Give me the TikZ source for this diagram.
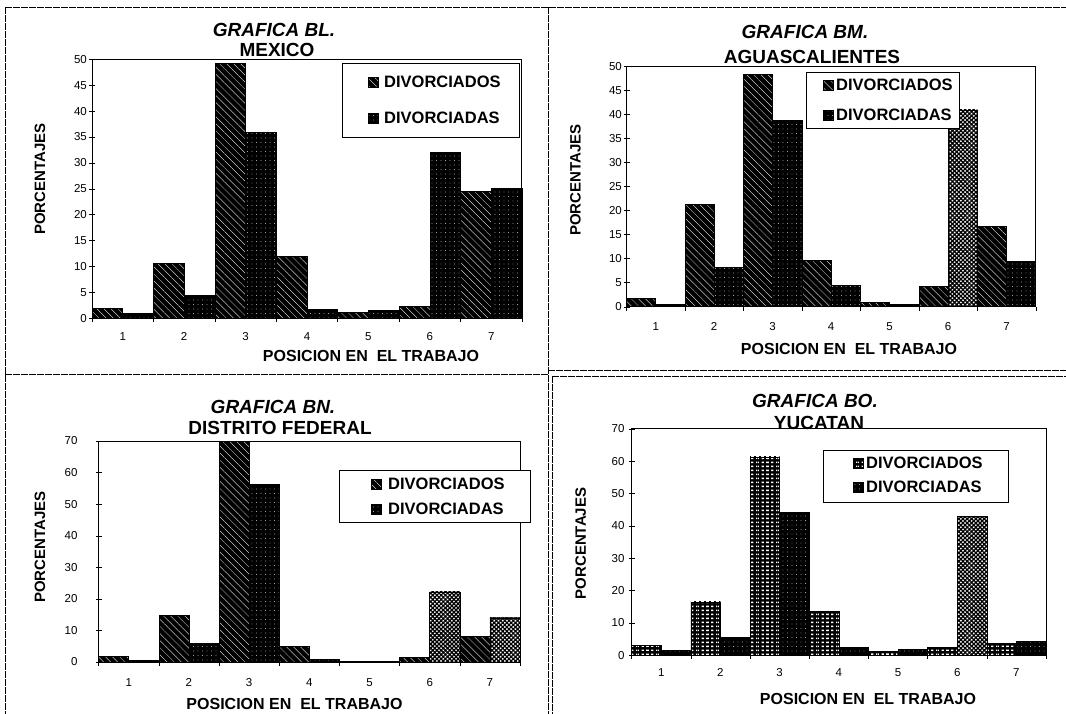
\documentclass[tikz,border=0pt]{standalone}
\usepackage{fontspec}
\setmainfont{Liberation Sans}
\usetikzlibrary{patterns.meta}

\begin{document}
\begin{tikzpicture}[x=1pt,y=-1pt,
  sheetline/.style={line width=0.8pt,dash pattern=on 7pt off 1pt},
  plotframe/.style={line width=1pt},
  ados/.style={draw=black,line width=0.6pt,preaction={fill=black},
    pattern={Lines[angle=-45,distance=5pt,line width=0.3pt]},pattern color=white},
  adas/.style={draw=black,line width=0.6pt,preaction={fill=black},
    pattern={Dots[distance=4.5pt,radius=0.4pt]},pattern color=white},
  lightadas/.style={draw=black,line width=0.6pt,
    pattern={Hatch[angle=45,distance=3pt,line width=1.3pt]},pattern color=black},
  gridados/.style={draw=black,line width=0.6pt,preaction={fill=black},
    pattern={Lines[angle=0,distance=4pt,line width=1.6pt]},pattern color=white,
    postaction={pattern={Lines[angle=90,distance=5pt,line width=1.2pt]},pattern color=black}},
  legendbox/.style={draw=black,line width=0.8pt,fill=white},
  titletext/.style={font=\fontsize{19}{21}\selectfont\bfseries\itshape},
  placetext/.style={font=\fontsize{19}{21}\selectfont\bfseries},
  legendtext/.style={font=\fontsize{16.5}{19}\selectfont\bfseries,anchor=west,inner sep=0pt},
  axistitle/.style={font=\fontsize{16}{18}\selectfont\bfseries},
  ylabeltext/.style={font=\fontsize{15}{17}\selectfont\bfseries,rotate=90},
  ticklabel/.style={font=\fontsize{11.5}{13}\selectfont,inner sep=0pt}]
\useasboundingbox (0,0) rectangle (1066,714);
\fill[white] (0,0) rectangle (1066,714);

% sheet
\draw[sheetline] (5,7) -- (1066,7);
\draw[sheetline] (5,7) -- (5,714);
\draw[sheetline] (548,7) -- (548,714);
\draw[sheetline] (552,376) -- (552,714);
\draw[sheetline] (5,374) -- (548,374);
\draw[sheetline] (548,370) -- (1066,370);
\draw[sheetline] (552,376) -- (1066,376);

% grafica BL
\node[titletext] (mextitle) at (274,30) {GRAFICA BL.};
\node[placetext] (mexplace) at (277,50) {MEXICO};
\node[ylabeltext] (mexylab) at (40,179) {PORCENTAJES};
\node[axistitle] (mexxlab) at (371,356) {POSICION EN~ EL TRABAJO};
\begin{scope}[shift={(92,318.3)},x=30.71pt,y=5.18pt]
\foreach \h/\s [count=\i] in {1.9/ados,1/adas,10.7/ados,4.5/adas,49.2/ados,35.9/adas,11.9/ados,
    1.7/adas,1.1/ados,1.6/adas,2.4/ados,32/adas,24.6/ados,25/adas}
  \draw[\s] (\i-1,0) rectangle (\i,\h);
\draw[plotframe] (0,0) rectangle (14,50);
\foreach \v in {0,5,...,50}{
  \draw (0,\v) ++(-3pt,0) -- ++(6pt,0);
  \node[ticklabel,anchor=east] (mexy\v) at ([xshift=-5pt]0,\v) {\v};
}
\foreach \c in {0,...,7}
  \draw (2*\c,0) -- ++(0,-4pt);
\foreach \c in {1,...,7}
  \node[ticklabel,anchor=base] (mexx\c) at ([yshift=-21.8pt]2*\c-1,0) {\c};
\end{scope}
\draw[legendbox] (342,63) rectangle (519,137);
\draw[ados] (368,77) rectangle (378,87);
\node[legendtext] (mexleg1) at (384,82) {DIVORCIADOS};
\draw[adas] (368,113) rectangle (378,123);
\node[legendtext] (mexleg2) at (384,118) {DIVORCIADAS};

% grafica BM
\node[titletext] (agstitle) at (805,32) {GRAFICA BM.};
\node[placetext] (agsplace) at (812,57) {AGUASCALIENTES};
\node[ylabeltext] (agsylab) at (575.5,180) {PORCENTAJES};
\node[axistitle] (agsxlab) at (849,349) {POSICION EN~ EL TRABAJO};
\begin{scope}[shift={(626.5,306.7)},x=29.23pt,y=4.8pt]
\foreach \h/\s [count=\i] in {1.7/ados,0.5/adas,21.4/ados,8.3/adas,48.5/ados,38.9/adas,9.6/ados,
    4.5/adas,1/ados,0.5/adas,4.2/ados,41/lightadas,16.7/ados,9.5/adas}
  \draw[\s] (\i-1,0) rectangle (\i,\h);
\draw[plotframe] (0,0) rectangle (14,50);
\foreach \v in {0,5,...,50}{
  \draw (0,\v) ++(-3pt,0) -- ++(6pt,0);
  \node[ticklabel,anchor=east] (agsy\v) at ([xshift=-4.5pt]0,\v) {\v};
}
\foreach \c in {0,...,7}
  \draw (2*\c,0) -- ++(0,-4pt);
\foreach \c in {1,...,7}
  \node[ticklabel,anchor=base] (agsx\c) at ([yshift=-23.4pt]2*\c-1,0) {\c};
\end{scope}
\draw[legendbox] (806,72) rectangle (959,128);
\draw[ados] (823,80) rectangle (833,90);
\node[legendtext] (agsleg1) at (836,85) {DIVORCIADOS};
\draw[adas] (823,110) rectangle (833,120);
\node[legendtext] (agsleg2) at (836,115) {DIVORCIADAS};

% grafica BN
\node[titletext] (dftitle) at (273,407) {GRAFICA BN.};
\node[placetext] (dfplace) at (280,428) {DISTRITO FEDERAL};
\node[ylabeltext] (dfylab) at (40,547) {PORCENTAJES};
\node[axistitle] (dfxlab) at (294.5,704) {POSICION EN~ EL TRABAJO};
\begin{scope}[shift={(98.6,662)},x=30.1pt,y=3.157pt]
\foreach \h/\s [count=\i] in {1.9/ados,0.5/adas,14.8/ados,5.8/adas,70/ados,56.2/adas,5/ados,
    1/adas,0.3/ados,0.3/adas,1.6/ados,22.2/lightadas,8.1/ados,14/lightadas}
  \draw[\s] (\i-1,0) rectangle (\i,\h);
\draw[plotframe] (0,0) rectangle (14,70);
\foreach \v in {0,10,...,70}{
  \draw (0,\v) ++(-3pt,0) -- ++(6pt,0);
  \node[ticklabel,anchor=east] (dfy\v) at ([xshift=-21pt]0,\v) {\v};
}
\foreach \c in {0,...,7}
  \draw (2*\c,0) -- ++(0,-4pt);
\foreach \c in {1,...,7}
  \node[ticklabel,anchor=base] (dfx\c) at ([yshift=-24.1pt]2*\c-1,0) {\c};
\end{scope}
\draw[legendbox] (339.5,470) rectangle (530.6,522);
\draw[ados] (371,479) rectangle (381,489);
\node[legendtext] (dfleg1) at (388,484) {DIVORCIADOS};
\draw[adas] (371,504) rectangle (381,514);
\node[legendtext] (dfleg2) at (388,509) {DIVORCIADAS};

% grafica BO
\node[titletext] (yuctitle) at (815,401) {GRAFICA BO.};
\node[placetext] (yucplace) at (819,423) {YUCATAN};
\node[ylabeltext] (yucylab) at (580.6,543.5) {PORCENTAJES};
\node[axistitle] (yucxlab) at (868,698.5) {POSICION EN~ EL TRABAJO};
\begin{scope}[shift={(631.6,655.3)},x=29.6pt,y=3.237pt]
\foreach \h/\s [count=\i] in {3.1/gridados,1.5/adas,16.5/gridados,5.7/adas,61.3/gridados,44.3/adas,13.6/gridados,
    2.4/adas,1.3/gridados,1.9/adas,2.4/gridados,43/lightadas,3.8/gridados,4.3/adas}
  \draw[\s] (\i-1,0) rectangle (\i,\h);
\draw[plotframe] (0,0) rectangle (14,70);
\foreach \v in {0,10,...,70}{
  \draw (0,\v) ++(-3pt,0) -- ++(6pt,0);
  \node[ticklabel,anchor=east] (yucy\v) at ([xshift=-7pt]0,\v) {\v};
}
\foreach \c in {0,...,7}
  \draw (2*\c,0) -- ++(0,-4pt);
\foreach \c in {1,...,7}
  \node[ticklabel,anchor=base] (yucx\c) at ([yshift=-20.8pt]2*\c-1,0) {\c};
\end{scope}
\draw[legendbox] (823,450) rectangle (1008,502);
\draw[gridados] (853,458) rectangle (863,468);
\node[legendtext] (yucleg1) at (866,463) {DIVORCIADOS};
\draw[adas] (853,482) rectangle (863,492);
\node[legendtext] (yucleg2) at (866,487) {DIVORCIADAS};
\end{tikzpicture}
\end{document}
